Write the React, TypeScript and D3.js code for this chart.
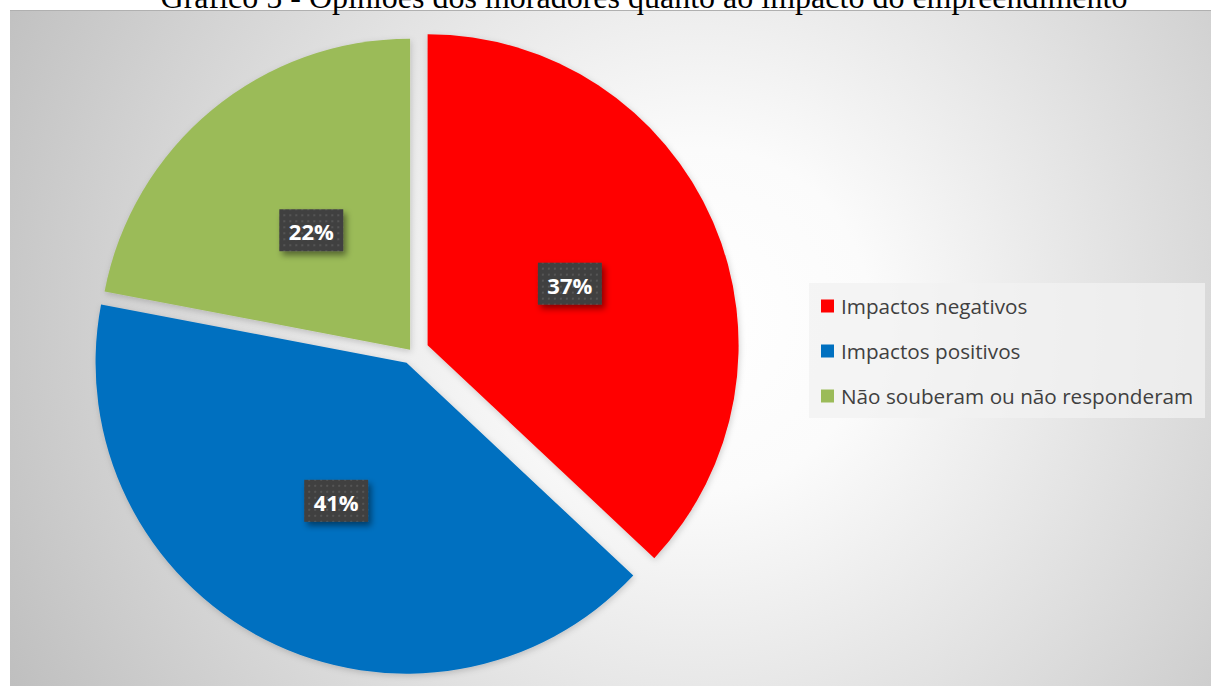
import React from "react";
import * as d3 from "d3";

const title = "Gráfico 5 - Opiniões dos moradores quanto ao impacto do empreendimento";
const categories = ["Impactos negativos", "Impactos positivos", "Não souberam ou não responderam"];
const values = [37, 41, 22];
const labels = ["37%", "41%", "22%"];
const colors = ["#FF0000", "#0070C0", "#9BBB59"];
const explode = [17, 12, 3];

const W = 1211;
const H = 686;

export default function App() {
  const cx = 412;
  const cy = 352;
  const R = 311;
  const pie = d3.pie<number>().sort(null).startAngle(0).endAngle(2 * Math.PI);
  const arcs = pie(values);
  const arc = d3.arc<d3.PieArcDatum<number>>().innerRadius(0).outerRadius(R);
  const labelArc = d3.arc<d3.PieArcDatum<number>>().innerRadius(155).outerRadius(155);

  const legendX = 809;
  const legendY = 283;
  const rowY = d3.scalePoint<string>().domain(categories).range([306, 396]);

  return (
    <div style={{ position: "fixed", left: 0, top: 0, width: W, height: H }}>
      <svg width={W} height={H} style={{ display: "block" }}>
        <defs>
          <radialGradient id="bg" gradientUnits="userSpaceOnUse" cx={700} cy={320} r={780}>
            <stop offset="0" stopColor="#ffffff" />
            <stop offset="0.22" stopColor="#fbfbfb" />
            <stop offset="1" stopColor="#bfbfbf" />
          </radialGradient>
          <pattern id="dots" width={6} height={6} patternUnits="userSpaceOnUse">
            <rect width={6} height={6} fill="#404040" />
            <rect x={2} y={2} width={2} height={2} fill="#555555" />
          </pattern>
          <filter id="shadow" x="-30%" y="-30%" width="170%" height="170%">
            <feDropShadow dx={3} dy={4} stdDeviation={3} floodColor="#000" floodOpacity={0.45} />
          </filter>
          <filter id="sliceShadow" x="-10%" y="-10%" width="120%" height="120%">
            <feDropShadow dx={1} dy={2} stdDeviation={3} floodColor="#000" floodOpacity={0.18} />
          </filter>
        </defs>
        <rect x={0} y={0} width={W} height={H} fill="#ffffff" />
        <rect x={10} y={10} width={W - 10} height={H - 10} fill="url(#bg)" />
        <line x1={10} x2={W} y1={10.5} y2={10.5} stroke="#b0b0b0" strokeWidth={1} />
        <text
          x={644}
          y={8}
          textAnchor="middle"
          fontFamily="'Liberation Serif', 'Times New Roman', serif"
          fontSize={32}
          fill="#000"
        >
          {title}
        </text>
        <g>
          {arcs.map((a, i) => {
            const mid = (a.startAngle + a.endAngle) / 2;
            const ox = cx + explode[i] * Math.sin(mid);
            const oy = cy - explode[i] * Math.cos(mid);
            return (
              <g key={i} transform={`translate(${ox},${oy})`}>
                <path d={arc(a) || ""} fill={colors[i]} filter="url(#sliceShadow)" />
              </g>
            );
          })}
          {arcs.map((a, i) => {
            const mid = (a.startAngle + a.endAngle) / 2;
            const ox = cx + explode[i] * Math.sin(mid);
            const oy = cy - explode[i] * Math.cos(mid);
            const [lx, ly] = labelArc.centroid(a);
            return (
              <g key={"l" + i} transform={`translate(${ox + lx},${oy + ly})`}>
                <rect x={-32} y={-21} width={64} height={42} fill="url(#dots)" filter="url(#shadow)" />
                <text
                  x={0}
                  y={1}
                  textAnchor="middle"
                  dominantBaseline="central"
                  fontFamily="'Open Sans', Lato, sans-serif"
                  fontWeight="bold"
                  fontSize={22}
                  fill="#ffffff"
                >
                  {labels[i]}
                </text>
              </g>
            );
          })}
        </g>
        <g>
          <rect x={legendX} y={legendY} width={396} height={135} fill="rgba(242,242,242,0.75)" />
          {categories.map((c, i) => (
            <g key={c} transform={`translate(${legendX + 12},${rowY(c)})`}>
              <rect x={0} y={-6.5} width={13} height={13} fill={colors[i]} />
              <text
                x={20}
                y={0}
                dominantBaseline="central"
                fontFamily="'Open Sans', Lato, sans-serif"
                fontSize={20.7}
                fill="#404040"
              >
                {c}
              </text>
            </g>
          ))}
        </g>
      </svg>
    </div>
  );
}
